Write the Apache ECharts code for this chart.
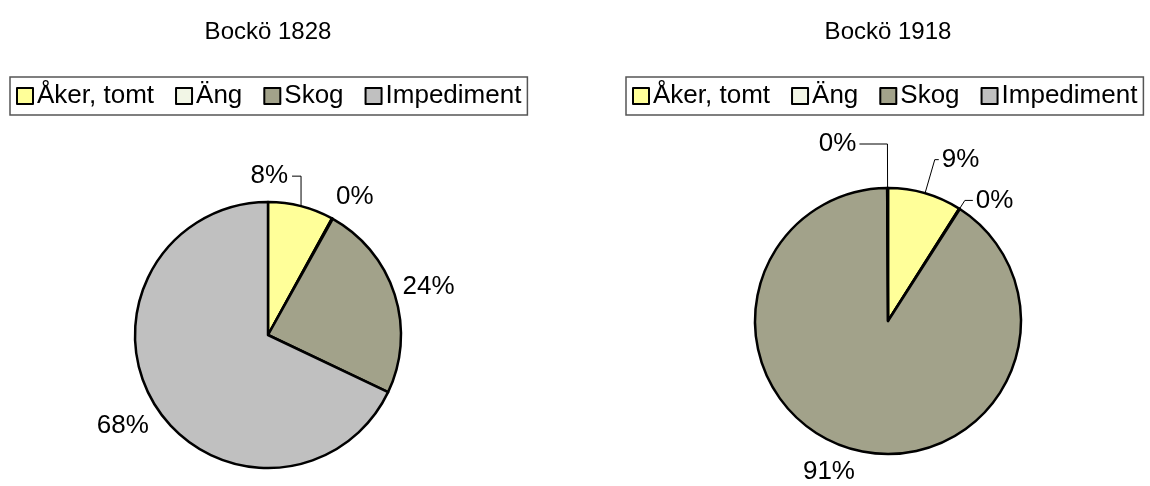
<!DOCTYPE html>
<html lang="sv">
<head>
  <meta charset="UTF-8">
  <title>Bockö 1828 / 1918</title>
  <script src="https://cdn.jsdelivr.net/npm/echarts@6/dist/echarts.min.js"></script>
  <style>
    html, body { margin: 0; padding: 0; background: #fff; }
    #main { width: 1150px; height: 486px; }
  </style>
</head>
<body>
<div id="main"></div>
<script>
  // kategorier och andelar (procent)
  var categories = ['Åker, tomt', 'Äng', 'Skog', 'Impediment'];
  var values1828 = [8, 0.1, 24, 68];
  var values1918 = [9, 0.1, 91, 0.1];
  var titles = ['Bockö 1828', 'Bockö 1918'];

  var colors = ['#FFFF99', '#F2F6E6', '#A2A28A', '#C0C0C0'];
  var FONT = 'Liberation Sans, Arial, sans-serif';

  // etikettinställningar per tårtbit (linjelängd, synlig linje, förskjutning)
  var labelCfg1828 = [
    { line: true, length: 31, length2: 9, flip: true },
    { line: false, length: 18, length2: 0, dx: -8, dy: -6 },
    { line: false, length: 5, length2: 0, dy: -6 },
    { line: false, length: 8, length2: 0, dx: 3, dy: 16 }
  ];
  var labelCfg1918 = [
    { line: true, length: 35, length2: 4 },
    { line: true, length: 10, length2: 8 },
    { line: false, length: 18, length2: 0, dx: 12, dy: 6 },
    { line: true, length: 44, length2: 28 }
  ];

  function buildData(values, cfg) {
    return values.map(function (v, i) {
      return {
        name: categories[i],
        value: v,
        itemStyle: { color: colors[i] },
        labelLine: {
          show: cfg[i].line,
          length: cfg[i].length,
          length2: cfg[i].length2
        }
      };
    });
  }

  function makeLabelLayout(cfg) {
    return function (p) {
      var c = cfg[p.dataIndex];
      if (c.flip && p.labelLinePoints) {
        // Excel lägger 8%-etiketten till vänster om en lodrät linje
        var pts = p.labelLinePoints;
        var p0 = pts[0];
        var p1 = [p0[0], pts[1][1]];
        var nx = p1[0] - c.length2;
        return {
          x: nx - 4,
          y: p1[1],
          align: 'right',
          verticalAlign: 'middle',
          labelLinePoints: [p0, p1, [nx, p1[1]]]
        };
      }
      if (c.dx || c.dy) return { dx: c.dx || 0, dy: c.dy || 0 };
    };
  }

  function pieSeries(name, values, cfg, center) {
    return {
      name: name,
      type: 'pie',
      center: center,
      radius: 133,
      startAngle: 90,
      clockwise: true,
      avoidLabelOverlap: false,
      itemStyle: { borderColor: '#000', borderWidth: 2.5 },
      emphasis: { disabled: true },
      label: {
        show: true,
        position: 'outside',
        color: '#000',
        fontFamily: FONT,
        fontSize: 26,
        distanceToLabelLine: 3,
        formatter: function (p) { return Math.round(p.percent) + '%'; }
      },
      labelLine: { lineStyle: { color: '#000', width: 1 } },
      labelLayout: makeLabelLayout(cfg),
      data: buildData(values, cfg)
    };
  }

  function legend(left) {
    return {
      left: left,
      top: 77,
      data: categories,
      icon: 'rect',
      itemWidth: 16,
      itemHeight: 16,
      itemGap: 21,
      padding: [6, 6, 6, 6],
      borderColor: '#555',
      borderWidth: 1.5,
      selectedMode: false,
      itemStyle: { borderColor: '#000', borderWidth: 2 },
      textStyle: { fontFamily: FONT, fontSize: 26, color: '#000', padding: [0, 0, 0, -1] }
    };
  }

  var chart = echarts.init(document.getElementById('main'), null, { renderer: 'canvas' });
  chart.setOption({
    backgroundColor: '#fff',
    animation: false,
    title: [
      { text: titles[0], left: 263, top: 15, textAlign: 'center',
        textStyle: { fontFamily: FONT, fontSize: 24, fontWeight: 'normal', color: '#000' } },
      { text: titles[1], left: 883, top: 15, textAlign: 'center',
        textStyle: { fontFamily: FONT, fontSize: 24, fontWeight: 'normal', color: '#000' } }
    ],
    legend: [legend(10), legend(626)],
    series: [
      pieSeries(titles[0], values1828, labelCfg1828, [268, 335]),
      pieSeries(titles[1], values1918, labelCfg1918, [888, 321])
    ]
  });
</script>
</body>
</html>
